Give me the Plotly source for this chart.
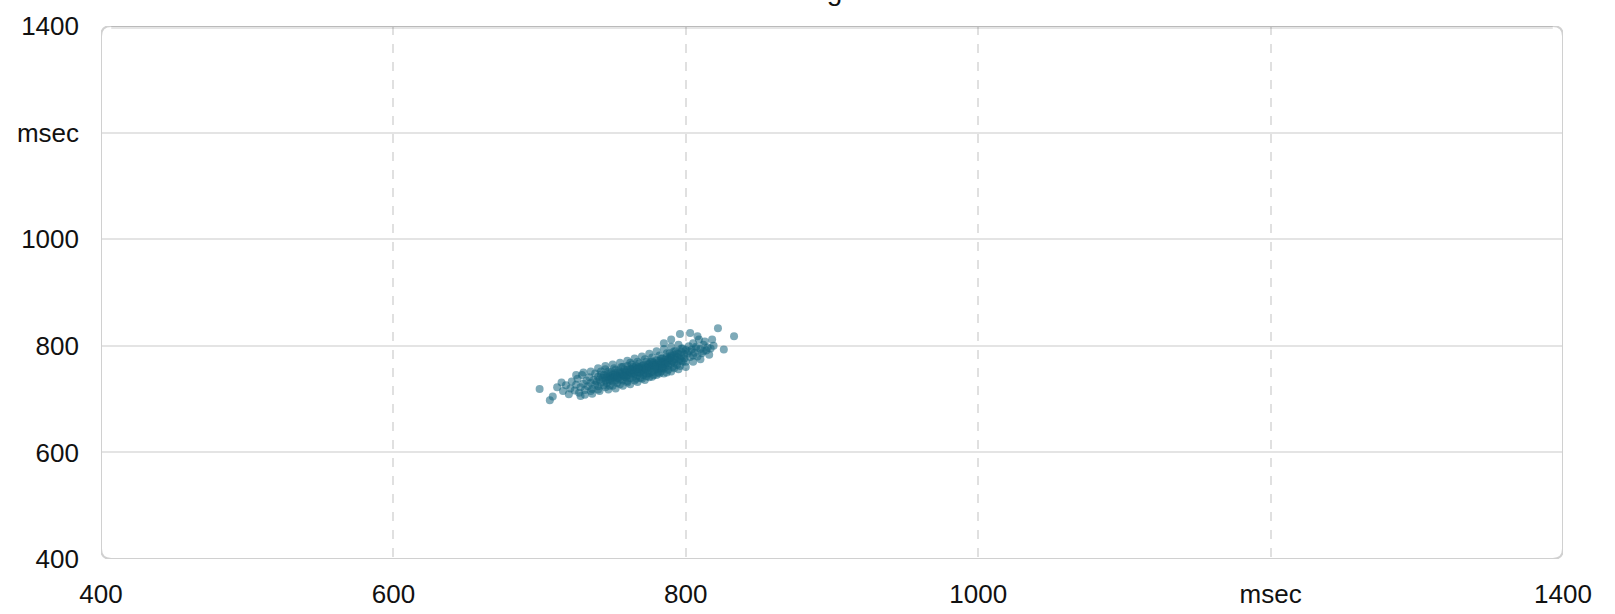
import plotly.graph_objects as go

# RR interval pairs (msec)
rr_x = [700,707,709,712,715,716,718,720,721,722,724,725,726,727,728,729,730,731,732,733,
        734,735,736,737,738,738,739,740,740,741,742,742,743,744,744,745,745,746,746,747,747,748,748,749,749,750,750,751,751,752,752,753,753,754,754,755,755,756,756,757,757,758,758,759,759,760,760,760,
        761,761,762,762,763,763,764,764,765,765,766,766,767,767,768,768,769,769,770,770,771,771,772,772,773,773,774,774,775,775,776,776,777,777,778,778,779,779,780,780,781,781,782,782,783,783,784,784,785,785,
        786,786,787,787,788,788,789,789,790,790,791,791,792,792,793,793,794,794,795,795,796,796,797,797,798,798,799,799,800,800,
        801,802,803,804,805,806,807,808,809,810,811,812,813,814,815,816,818,819,822,826,833,
        750,752,755,757,760,762,764,766,768,770,772,774,776,778,780,782,784,786,788,790,765,768,771,774,777,780,783,786,789,792,745,748,753,758,763,767,773,779,784,794,
        725,730,735,740,745,750,755,760,765,770,775,780,785,790,795,
        735,740,745,750,755,760,765,770,775,780,785,790,795,800,805,810,
        742,747,752,757,762,767,772,777,782,787,792,797,802,807,812,817,805,797,792,787,782,777,772,767,762,757,752,747,741,736,731,728,
        796,803,808,790,785]
rr_y = [719,698,705,722,731,715,726,709,720,733,716,727,738,712,722,745,729,717,735,724,
        741,730,719,736,748,727,733,742,724,737,731,752,740,726,745,735,756,742,730,748,737,725,744,751,739,733,746,758,741,735,749,744,730,754,740,747,737,760,743,751,735,746,756,740,750,744,762,734,
        752,745,739,757,748,765,742,753,758,747,738,762,751,744,756,767,749,740,759,753,745,764,757,750,770,743,760,754,748,766,757,762,751,771,745,760,765,755,773,761,750,768,757,764,776,752,762,770,757,766,
        774,760,768,780,763,755,772,786,766,778,760,771,783,768,775,790,764,779,771,785,776,762,789,781,770,795,784,776,792,770,
        785,799,779,793,805,787,798,780,812,794,786,802,808,791,797,783,812,800,833,793,818,
        740,745,750,745,755,750,760,755,750,762,760,765,770,768,765,772,776,770,775,782,752,760,755,748,764,756,768,765,778,775,740,735,739,742,756,758,757,760,758,786,
        745,750,752,758,762,765,768,772,776,780,785,790,794,798,802,
        715,718,722,725,728,731,735,738,741,745,748,752,756,760,770,775,
        745,752,755,760,768,770,775,778,782,786,790,795,790,795,790,795,782,772,758,750,748,742,736,732,728,725,720,718,715,710,708,706,
        822,824,818,812,805]

tick_vals = [400, 600, 800, 1000, 1200, 1400]
tick_text = ["400", "600", "800", "1000", "msec", "1400"]
title_text = "Tachogram"

fig = go.Figure()
fig.add_trace(go.Scatter(
    x=rr_x, y=rr_y, mode="markers",
    marker=dict(size=8, color="rgba(20,100,126,0.55)", line=dict(width=0)),
    hoverinfo="x+y", showlegend=False,
))

rx, ry = 7, 19
path = (f"M {400+rx},400 L {1400-rx},400 Q 1400,400 1400,{400+ry} "
        f"L 1400,{1400-ry} Q 1400,1400 {1400-rx},1400 L {400+rx},1400 "
        f"Q 400,1400 400,{1400-ry} L 400,{400+ry} Q 400,400 {400+rx},400 Z")
fig.add_shape(type="path", path=path, xref="x", yref="y",
              line=dict(color="#d0d0d0", width=2), layer="above")
# top shadow
fig.add_shape(type="line", xref="x", yref="y", x0=400+rx, x1=1400-rx, y0=1397, y1=1397,
              line=dict(color="rgba(0,0,0,0.10)", width=3), layer="above")

font = dict(family="Liberation Sans, Arial, sans-serif", size=26, color="#111111")
fig.update_layout(
    width=1615, height=614,
    margin=dict(l=101, r=52, t=26, b=55),
    paper_bgcolor="white", plot_bgcolor="white",
    font=font,
    xaxis=dict(range=[400, 1400], tickvals=tick_vals, ticktext=tick_text,
               showgrid=True, gridcolor="#e0e0e0", gridwidth=1.5, griddash="dash",
               zeroline=False, showline=False, ticks="", ticklabelstandoff=17,
               tickfont=font, automargin=False),
    yaxis=dict(range=[400, 1400], tickvals=tick_vals, ticktext=tick_text,
               showgrid=True, gridcolor="#e4e4e4", gridwidth=2,
               zeroline=False, showline=False, ticks="", ticklabelstandoff=21,
               tickfont=font, automargin=False),
    annotations=[dict(text=title_text, xref="paper", yref="paper", x=0.4925, y=1.034,
                      xanchor="center", yanchor="bottom", showarrow=False,
                      font=dict(family="Liberation Sans, Arial, sans-serif", size=28, color="#111111"))],
)

fig.write_html("out.html")
